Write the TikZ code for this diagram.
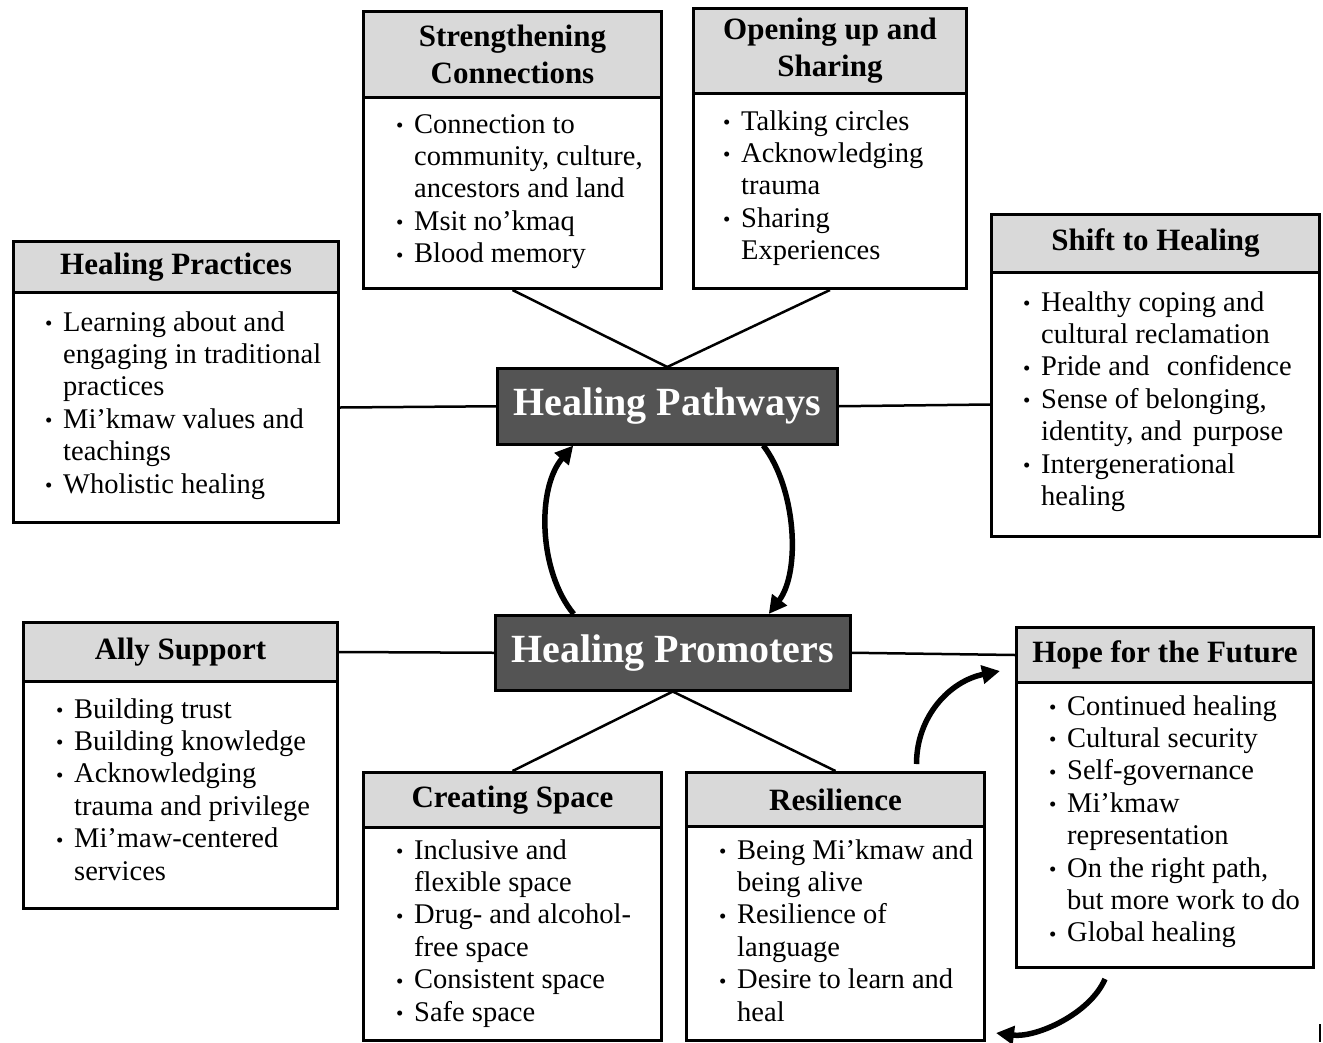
\documentclass[tikz,border=0pt]{standalone}
\usepackage{fontspec}
\setmainfont{Liberation Serif}
\usetikzlibrary{arrows.meta}
\definecolor{hdrgray}{HTML}{D9D9D9}
\definecolor{darkbox}{HTML}{545454}
\newcommand\bodyfnt{\fontsize{28.5}{32.4}\selectfont}
\newcommand\hdrfnt{\fontsize{31}{37}\selectfont\bfseries}
\newcommand\bul{\makebox[18pt][l]{\raisebox{0.5pt}{\fontsize{21}{21}\selectfont\textbullet}}}
\newcommand\ind{\hspace*{18pt}}
\tikzset{
  hdr/.style={draw, line width=3pt, fill=hdrgray, anchor=north west, inner sep=0pt, align=center, font=\hdrfnt},
  bodybox/.style={draw, line width=3pt, fill=white, anchor=north west, inner sep=0pt},
  items/.style={anchor=base west, inner sep=0pt, font=\bodyfnt},
  core/.style={draw, line width=2.5pt, fill=darkbox, text=white, font=\fontsize{40}{44}\selectfont\bfseries, inner sep=0pt, anchor=north west},
  link/.style={line width=2.5pt},
  cyc/.style={line width=5.5pt, -{Triangle[length=18pt,width=18pt]}}
}
\begin{document}
\begin{tikzpicture}[x=1pt,y=-1pt]
\useasboundingbox (0,0) rectangle (1323,1042);
\fill[white] (0,0) rectangle (1323,1042);

% Strengthening Connections
\node[hdr, minimum width=298pt, minimum height=86pt] (sc-h) at (362,10) {Strengthening\\Connections};
\node[bodybox, minimum width=298pt, minimum height=191pt] (sc) at (362,96) {};
\node[items] (sc-t) at (396,133) {\begin{tabular}[t]{@{}l@{}}
\bul Connection to\\ \ind community, culture,\\ \ind ancestors and land\\ \bul Msit no’kmaq\\ \bul Blood memory\end{tabular}};

% Opening up and Sharing
\node[hdr, minimum width=273pt, minimum height=85pt] (os-h) at (692,7) {Opening up and\\Sharing};
\node[bodybox, minimum width=273pt, minimum height=195pt] (os) at (692,92) {};
\node[items] (os-t) at (723,130) {\begin{tabular}[t]{@{}l@{}}
\bul Talking circles\\ \bul Acknowledging\\ \ind trauma\\ \bul Sharing\\ \ind Experiences\end{tabular}};

% Healing Practices
\node[hdr, minimum width=325pt, minimum height=51pt] (hpr-h) at (12,240) {Healing Practices};
\node[bodybox, minimum width=325pt, minimum height=230pt] (hpr) at (12,291) {};
\node[items] (hpr-t) at (45,331) {\begin{tabular}[t]{@{}l@{}}
\bul Learning about and\\ \ind engaging in traditional\\ \ind practices\\ \bul Mi’kmaw values and\\ \ind teachings\\ \bul Wholistic healing\end{tabular}};

% Shift to Healing
\node[hdr, minimum width=328pt, minimum height=58pt] (sh-h) at (990,213) {Shift to Healing};
\node[bodybox, minimum width=328pt, minimum height=264pt] (sh) at (990,271) {};
\node[items] (sh-t) at (1023,311) {\begin{tabular}[t]{@{}l@{}}
\bul Healthy coping and\\ \ind cultural reclamation\\ \bul Pride and\hspace{10pt} confidence\\ \bul Sense of belonging,\\ \ind identity, and\hspace{4pt} purpose\\ \bul Intergenerational\\ \ind healing\end{tabular}};

% Ally Support
\node[hdr, minimum width=314pt, minimum height=59pt] (as-h) at (22,621) {Ally Support};
\node[bodybox, minimum width=314pt, minimum height=227pt] (as) at (22,680) {};
\node[items] (as-t) at (56,718) {\begin{tabular}[t]{@{}l@{}}
\bul Building trust\\ \bul Building knowledge\\ \bul Acknowledging\\ \ind trauma and privilege\\ \bul Mi’maw-centered\\ \ind services\end{tabular}};

% Creating Space
\node[hdr, minimum width=298pt, minimum height=55pt] (cs-h) at (362,771) {Creating Space};
\node[bodybox, minimum width=298pt, minimum height=213pt] (cs) at (362,826) {};
\node[items] (cs-t) at (396,859) {\begin{tabular}[t]{@{}l@{}}
\bul Inclusive and\\ \ind flexible space\\ \bul Drug- and alcohol-\\ \ind free space\\ \bul Consistent space\\ \bul Safe space\end{tabular}};

% Resilience
\node[hdr, minimum width=298pt, minimum height=54pt] (re-h) at (685,771) {Resilience};
\node[bodybox, minimum width=298pt, minimum height=214pt] (re) at (685,825) {};
\node[items] (re-t) at (719,859) {\begin{tabular}[t]{@{}l@{}}
\bul Being Mi’kmaw and\\ \ind being alive\\ \bul Resilience of\\ \ind language\\ \bul Desire to learn and\\ \ind heal\end{tabular}};

% Hope for the Future
\node[hdr, minimum width=297pt, minimum height=55pt] (hf-h) at (1015,626) {Hope for the Future};
\node[bodybox, minimum width=297pt, minimum height=285pt] (hf) at (1015,681) {};
\node[items] (hf-t) at (1049,715) {\begin{tabular}[t]{@{}l@{}}
\bul Continued healing\\ \bul Cultural security\\ \bul Self-governance\\ \bul Mi’kmaw\\ \ind representation\\ \bul On the right path,\\ \ind but more work to do\\ \bul Global healing\end{tabular}};

% Central nodes
\node[core, minimum width=340pt, minimum height=76pt] (pw) at (496,367) {Healing Pathways};
\node[core, minimum width=355pt, minimum height=75pt] (pm) at (494,614) {Healing Promoters};

% Connectors
\draw[link] (sc.south) -- (pw.north);
\draw[link] (os.south) -- (pw.north);
\draw[link] (hpr.east) -- (pw.west);
\draw[link] (pw.east) -- (sh.west);
\draw[link] (as-h.east) -- (pm.west);
\draw[link] (pm.east) -- (hf-h.west);
\draw[link] (pm.south) -- (cs-h.north);
\draw[link] (pm.south) -- (re-h.north);

% Cycle arrows
\draw[cyc] ([xshift=-99pt]pm.north) .. controls +(-35,-42) and +(-37,43) .. ([xshift=-94pt]pw.south);
\draw[cyc] ([xshift=96pt]pw.south) .. controls +(33,43) and +(32,-42) .. ([xshift=96pt]pm.north);

% Resilience -> Hope, Hope -> Resilience
\draw[cyc] ([xshift=81pt,yshift=7pt]re-h.north) .. controls +(0,-48) and +(-50,10) .. ([xshift=-15pt,yshift=-16pt]hf-h.west);
\draw[cyc] ([xshift=-60pt,yshift=-10pt]hf.south) .. controls +(-15,35) and +(40,5) .. ([xshift=10pt,yshift=9pt]re.south east);

% small mark
\draw[line width=1.5pt] (1320,1024) -- (1320,1042);
\end{tikzpicture}
\end{document}
